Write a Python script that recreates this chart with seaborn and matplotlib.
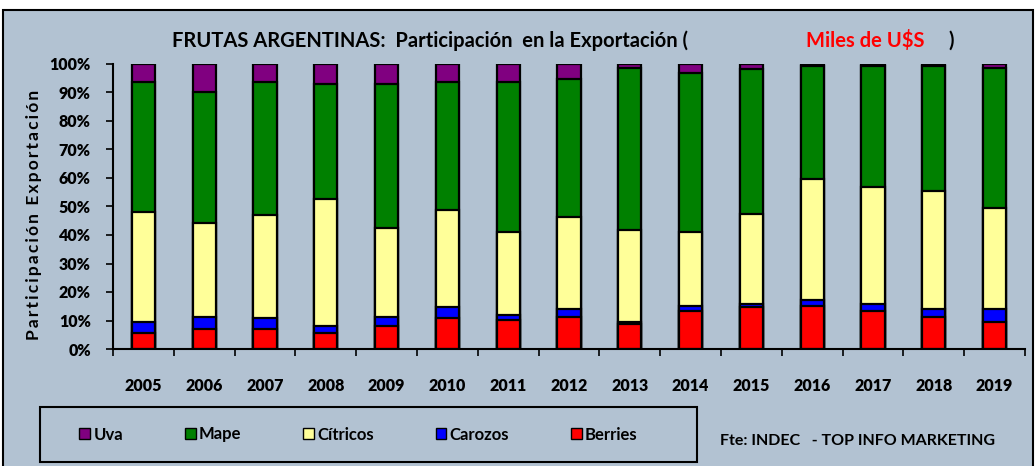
import numpy as np
import pandas as pd
import matplotlib.pyplot as plt
from matplotlib.patches import Rectangle, Patch
import seaborn as sns

YEARS = ["2005", "2006", "2007", "2008", "2009", "2010", "2011", "2012",
         "2013", "2014", "2015", "2016", "2017", "2018", "2019"]

# participacion (%) por fruta
berries = [5.7, 6.9, 6.9, 5.7, 8.2, 10.8, 10.1, 11.3, 8.9, 13.3, 14.6, 15.2, 13.3, 11.3, 9.5]
carozos = [3.9, 4.2, 3.9, 2.5, 3.1, 3.8, 1.9, 2.6, 0.7, 1.9, 1.3, 1.9, 2.6, 2.6, 4.4]
citricos = [38.6, 33.2, 36.1, 44.3, 31.2, 34.2, 29.2, 32.3, 32.3, 26.0, 31.6, 42.4, 41.0, 41.7, 35.4]
mape = [45.4, 45.7, 46.7, 40.5, 50.5, 44.8, 52.4, 48.6, 56.8, 55.5, 50.6, 39.9, 42.5, 43.8, 49.4]
uva = [6.4, 10.0, 6.4, 7.0, 7.0, 6.4, 6.4, 5.2, 1.3, 3.3, 1.9, 0.6, 0.6, 0.6, 1.3]

SERIES = ["Berries", "Carozos", "Cítricos", "Mape", "Uva"]
COLORS = {"Berries": "#FF0000", "Carozos": "#0000FF", "Cítricos": "#FFFF99",
          "Mape": "#008000", "Uva": "#800080"}
BG = "#B2C2D2"

df = pd.DataFrame({"year": YEARS, "Berries": berries, "Carozos": carozos,
                   "Cítricos": citricos, "Mape": mape, "Uva": uva})
cum = df[SERIES].cumsum(axis=1)
cum = cum.div(cum["Uva"], axis=0) * 100
cum["year"] = YEARS

sns.set_style("white")
plt.rcParams["font.family"] = ["Lato", "DejaVu Sans"]
plt.rcParams.update({"text.color": "black", "axes.labelcolor": "black",
                     "xtick.color": "black", "ytick.color": "black"})

fig = plt.figure(figsize=(10.36, 4.66), dpi=100)
fig.patch.set_facecolor("white")
fig.patches.append(Rectangle((3 / 1036, -0.02), 1030 / 1036, (466 - 10) / 466 + 0.02,
                             transform=fig.transFigure, facecolor=BG, edgecolor="black",
                             linewidth=1.5, zorder=-10))

ax = fig.add_axes([113 / 1036, (466 - 349) / 466, 912 / 1036, 285 / 466])
ax.set_facecolor("none")

# barras apiladas: se dibuja el acumulado de arriba hacia abajo
for s in reversed(SERIES):
    sns.barplot(data=cum, x="year", y=s, order=YEARS, color=COLORS[s], saturation=1,
                edgecolor="black", linewidth=1.6, width=0.38, errorbar=None, ax=ax)

ax.set_xlim(-0.5, 14.5)
ax.set_ylim(0, 100)
ax.set_yticks(np.arange(0, 101, 10))
ax.set_yticklabels([f"{v}%" for v in range(0, 101, 10)], fontsize=11.5, fontweight="heavy")
ax.set_xticks(range(len(YEARS)))
ax.set_xticklabels(YEARS, fontsize=11.5, fontweight="heavy")
ax.set_xticks(np.arange(-0.5, 15, 1), minor=True)
ax.tick_params(axis="x", which="major", length=0, pad=21)
ax.tick_params(axis="x", which="minor", length=5, width=1.2, direction="out", color="black",
               bottom=True)
ax.tick_params(axis="y", length=5, width=1.2, direction="out", color="black", pad=11, left=True)
ax.set_xlabel("")
ax.set_ylabel("\u2009".join("Participación Exportación").replace("\u2009 \u2009", "  "),
              fontsize=12.5, fontweight="bold", labelpad=5)
ax.yaxis.set_label_coords(-0.078, 0.47)
for side in ["top", "right"]:
    ax.spines[side].set_visible(False)
for side in ["left", "bottom"]:
    ax.spines[side].set_color("black")
    ax.spines[side].set_linewidth(1.5)

fig.text(430 / 1036, (466 - 41) / 466, "FRUTAS ARGENTINAS:  Participación  en la Exportación (",
         ha="center", va="center", fontsize=14.5, fontweight="bold")
fig.text(865 / 1036, (466 - 41) / 466, "Miles de U$S", color="red",
         ha="center", va="center", fontsize=14.5, fontweight="bold")
fig.text(951 / 1036, (466 - 41) / 466, ")", ha="center", va="center",
         fontsize=14.5, fontweight="bold")

handles = [Patch(facecolor=COLORS[s], edgecolor="black", linewidth=1) for s in reversed(SERIES)]
leg = fig.legend(handles, list(reversed(SERIES)), ncol=5,
                 bbox_to_anchor=(30 / 1036, 4 / 466, 657 / 1036, 55 / 466), loc="center",
                 frameon=False, handlelength=0.65, handleheight=0.65,
                 handletextpad=0.2, columnspacing=3.7, borderaxespad=0,
                 prop={"size": 12, "weight": "bold"})
fig.patches.append(Rectangle((40 / 1036, 4 / 466), 657 / 1036, 55 / 466,
                             transform=fig.transFigure, facecolor="none",
                             edgecolor="black", linewidth=1.5, zorder=5))

fig.text(720 / 1036, (466 - 441) / 466, "Fte: INDEC   - TOP INFO MARKETING",
         ha="left", va="center", fontsize=11.5, fontweight="bold")

fig.savefig("out.png", dpi=100, facecolor="white")
